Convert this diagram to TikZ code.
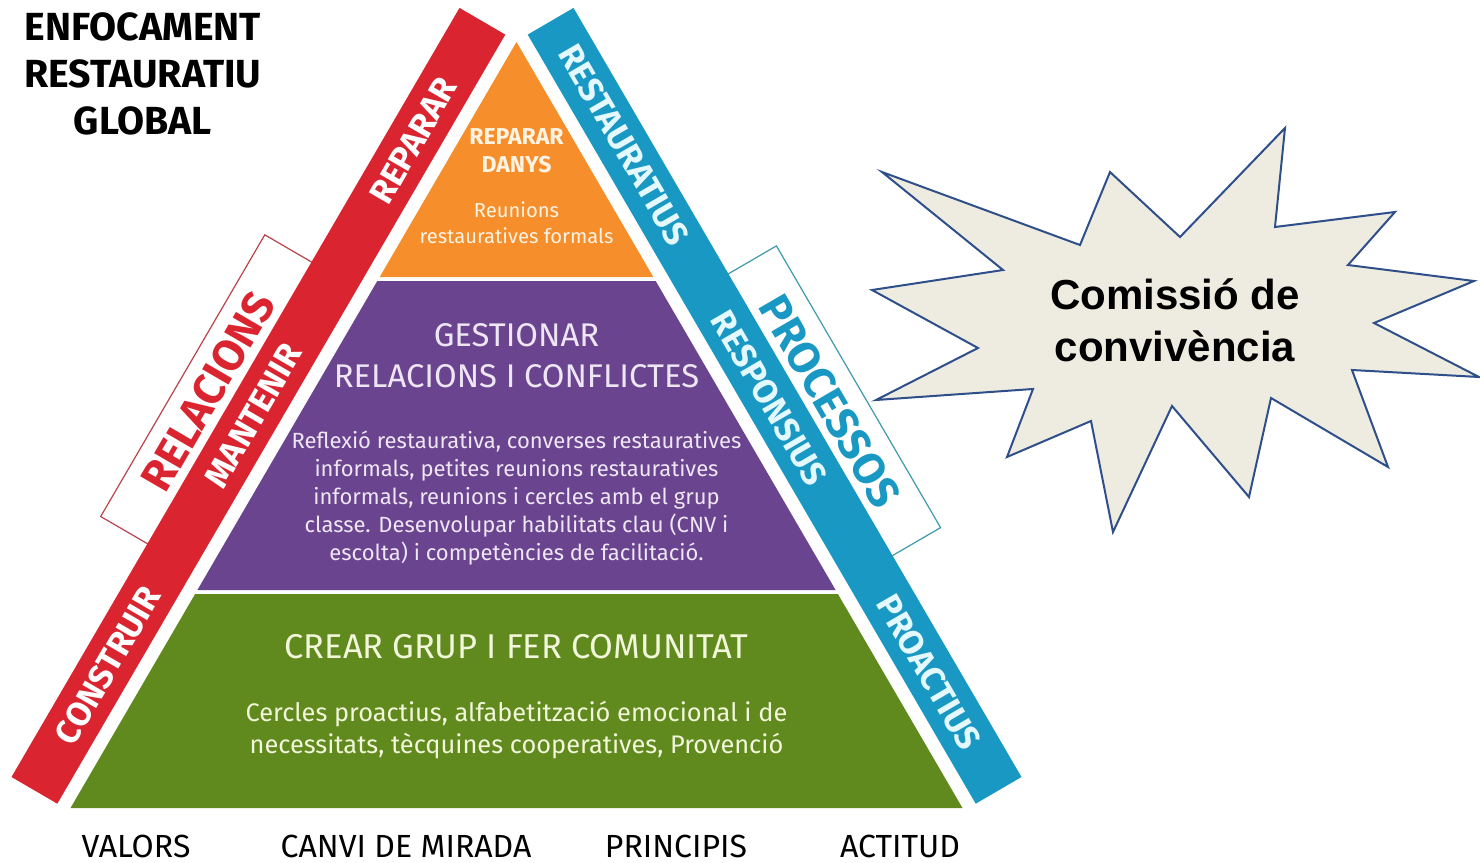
\documentclass[tikz,border=0pt]{standalone}
\usepackage{fontspec}
\setmainfont{Fira Sans}
\newfontfamily\arialfont{Liberation Sans}
\usepackage{tikz}
\usetikzlibrary{positioning}

\definecolor{bandred}{HTML}{DA2530}
\definecolor{bandblue}{HTML}{1898C3}
\definecolor{bandlight}{HTML}{E4F8FF}
\definecolor{boxred}{HTML}{B8434C}
\definecolor{boxblue}{HTML}{3E9AAA}
\definecolor{layerorange}{HTML}{F68E2C}
\definecolor{layerpurple}{HTML}{6A448E}
\definecolor{layergreen}{HTML}{608A1E}
\definecolor{orangetext}{HTML}{FFF4E4}
\definecolor{purpletext}{HTML}{EEE6F4}
\definecolor{greentext}{HTML}{F2F6DA}
\definecolor{starfill}{HTML}{EEEBE0}
\definecolor{starline}{HTML}{2F4F8A}

\begin{document}
\begin{tikzpicture}[x=0.5pt, y=-0.5pt,
  bandtext/.style={text=white, font=\bfseries\fontsize{17}{20}\selectfont},
  bluetext/.style={bandtext, text=bandlight},
  boxtext/.style={font=\bfseries\fontsize{22}{26}\selectfont},
  layerhead/.style={align=center, font=\fontsize{16.4}{20.5}\selectfont},
  layerbody/.style={align=center, font=\fontsize{11}{14.1}\selectfont},
  basetext/.style={inner sep=0pt, font=\fontsize{16}{18}\selectfont}]
  \useasboundingbox (0,0) rectangle (1480,863);

  % pyramid
  \fill[layerorange] (516.5,42) -- (653.3,277) -- (379.7,277) -- cycle;
  \fill[layerpurple] (377.3,281) -- (655.7,281) -- (835.6,590) -- (197.4,590) -- cycle;
  \fill[layergreen] (195.1,594) -- (837.9,594) -- (962.5,808) -- (70.5,808) -- cycle;

  % boxes behind the bands
  \draw[boxred, line width=0.6pt] (316.7,265) -- (264.8,234.8) -- (100.7,516.5) -- (152.6,546.7) -- cycle;
  \draw[boxblue, line width=0.6pt] (722.8,277.1) -- (776.4,245.9) -- (940.6,527.6) -- (887,558.8) -- cycle;

  % bands
  \fill[bandred] (505.3,34.6) -- (459.5,7.9) -- (11.5,777) -- (57.3,803.7) -- cycle;
  \fill[bandblue] (527.7,34.6) -- (573.5,7.9) -- (1021.5,777) -- (975.7,803.7) -- cycle;

  \node[bandtext, rotate=59.8] (reparar) at (413.3,140.8) {REPARAR};
  \node[bandtext, rotate=59.8] (mantenir) at (253.3,415.6) {MANTENIR};
  \node[bandtext, rotate=59.8] (construir) at (107.8,665.3) {CONSTRUIR};
  \node[boxtext, text=bandred, rotate=59.8] (relacions) at (208.2,391.6) {RELACIONS};

  \node[bluetext, rotate=-59.8] (restauratius) at (624,145) {RESTAURATIUS};
  \node[bluetext, rotate=-59.8] (responsius) at (769.2,398.3) {RESPONSIUS};
  \node[bluetext, rotate=-59.8] (proactius) at (928.8,672.2) {PROACTIUS};
  \node[boxtext, text=bandblue, rotate=-59.8] (processos) at (829.9,401.1) {PROCESSOS};

  % layer texts
  \node[align=center, text=orangetext, font=\bfseries\fontsize{11.5}{14}\selectfont] (danys) at (516.5,151) {REPARAR\\DANYS};
  \node[align=center, text=orangetext, font=\fontsize{10.1}{13}\selectfont] (formals) at (516.5,223) {Reunions\\restauratives formals};

  \node[layerhead, text=purpletext] (gestionar) at (516.5,355.5) {GESTIONAR\\RELACIONS I CONFLICTES};
  \node[layerbody, text=purpletext] (reflexio) at (516.5,498) {Reflexió restaurativa, converses restauratives\\informals, petites reunions restauratives\\informals, reunions i cercles amb el grup\\classe. Desenvolupar habilitats clau (CNV i\\escolta) i competències de facilitació.};

  \node[layerhead, font=\fontsize{17.2}{20.5}\selectfont, text=greentext] (crear) at (516.5,647) {CREAR GRUP I FER COMUNITAT};
  \node[align=center, text=greentext, font=\fontsize{12.7}{16}\selectfont] (cercles) at (516.5,730) {Cercles proactius, alfabetització emocional i de\\necessitats, tècquines cooperatives, Provenció};

  % title and bottom words
  \node[align=center, font=\bfseries\fontsize{19.6}{23.5}\selectfont] (title) at (143,74) {ENFOCAMENT\\RESTAURATIU\\GLOBAL};

  \node[basetext] (valors) at (136,846) {VALORS};
  \node[basetext] (canvi) at (406,846) {CANVI DE MIRADA};
  \node[basetext] (principis) at (676,846) {PRINCIPIS};
  \node[basetext] (actitud) at (900,846) {ACTITUD};

  % star
  \draw[starline, fill=starfill, line width=1pt, line join=miter]
    (882,172) -- (1080,245) -- (1110,172) -- (1180,237) -- (1285,128) -- (1275,227)
    -- (1395,212) -- (1348,265) -- (1474,281) -- (1374,323) -- (1479,377) -- (1352,370)
    -- (1388,467) -- (1271,398) -- (1249,497) -- (1172,406) -- (1113,532) -- (1091,421)
    -- (1007,457) -- (1033,389) -- (876,400) -- (978,348) -- (872,290) -- (1003,270) -- cycle;
  \node[align=center, font=\arialfont\bfseries\fontsize{21}{26}\selectfont] (comissio) at (1175,320) {Comissió de\\convivència};
\end{tikzpicture}
\end{document}
